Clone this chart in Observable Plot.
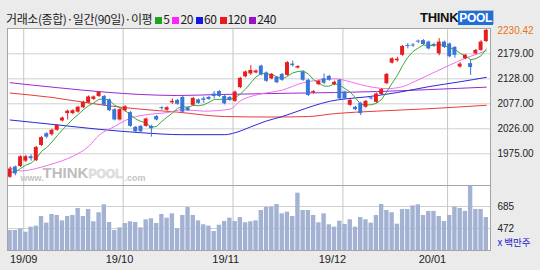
<!DOCTYPE html>
<html><head><meta charset="utf-8">
<script src="https://cdn.jsdelivr.net/npm/d3@7"></script>
<script src="https://cdn.jsdelivr.net/npm/@observablehq/plot@0.6"></script>
<style>
body{margin:0;}
#wrap{position:relative;width:540px;height:270px;background:#ebebeb;overflow:hidden;font-family:"Noto Sans CJK KR",sans-serif;}
#hdr{position:absolute;left:6px;top:12px;font-size:12px;line-height:14px;color:#222;white-space:nowrap;letter-spacing:-0.4px;}
.sq{display:inline-block;width:7px;height:7px;margin:0 1px 0 3px;}
#logo{position:absolute;left:420px;top:11px;font-family:"Liberation Sans",Arial,sans-serif;font-weight:bold;font-size:13px;line-height:13px;white-space:nowrap;}
#logo .t{color:#111;letter-spacing:-0.3px;}
#logo .p{color:#fff;background:#1e6fdc;padding:0 1px;font-size:12px;letter-spacing:-0.3px;box-shadow:1px -1px 0 #bbb;}
.pl{position:absolute;left:0;}
</style></head>
<body>
<div id="wrap">
  <div id="hdr">거래소(종합)·일간(90일)·이평<span class="sq" style="background:#1fa31f"></span>5<span class="sq" style="background:#ff22ff"></span>20<span class="sq" style="background:#1515e8"></span>60<span class="sq" style="background:#e81a1a"></span>120<span class="sq" style="background:#9a10cc"></span>240</div>
  <div id="logo"><span class="t">THINK</span><span class="p">POOL</span></div>
  <div id="price" class="pl" style="top:0"></div>
  <div id="vol" class="pl" style="top:185px"></div>
</div>
<script>
// ---- data ----
const open = [1927,1948,1949,1960,1969,1961,1992,2016,2014,2023,
 2042,2057,2057,2060,2069,2079,2086,2092,2092,2085,
 2065,2044,2063,2059,2029,2031,2031,2031,2051,2069,
 2064,2079,2084,2090,2069,2074,2085,2087,2090,2097,
 2102,2092,2090,2082,2110,2132,2138,2140,2154,2140,
 2128,2131,2137,2135,2158,2150,2142,2125,2099,2116,
 2128,2133,2116,2125,2101,2074,2070,2078,2070,2089,
 2080,2096,2118,2160,2165,2176,2196,2197,2205,2206,
 2203,2198,2179,2203,2199,2192,2152,2169,2159,2179,
 2186,2204];
const close = [1944,1934,1969,1969,1965,1988,2008,2009,2023,2033,
 2048,2062,2063,2070,2080,2091,2091,2100,2074,2063,
 2044,2065,2071,2031,2020,2020,2046,2026,2044,2067,
 2069,2082,2076,2060,2063,2088,2078,2084,2086,2092,
 2092,2077,2084,2101,2129,2142,2145,2144,2136,2123,
 2137,2120,2125,2161,2155,2153,2125,2094,2102,2123,
 2119,2125,2121,2087,2087,2084,2065,2057,2082,2087,
 2097,2106,2137,2169,2168,2194,2194,2195,2203,2198,
 2189,2196,2203,2192,2173,2176,2158,2176,2151,2186,
 2203,2227];
const high = [1948,1950,1971,1972,1973,1990,2010,2018,2025,2035,
 2050,2064,2065,2072,2082,2093,2093,2102,2094,2087,
 2067,2067,2073,2061,2031,2033,2048,2033,2053,2071,
 2071,2087,2086,2092,2071,2090,2087,2091,2092,2102,
 2104,2094,2092,2103,2131,2144,2155,2146,2156,2142,
 2139,2133,2139,2163,2164,2155,2144,2127,2104,2125,
 2138,2135,2123,2127,2103,2086,2072,2080,2084,2092,
 2099,2108,2139,2171,2172,2196,2200,2200,2207,2208,
 2205,2201,2210,2205,2201,2194,2161,2178,2166,2188,
 2206,2230];
const low = [1925,1930,1947,1957,1960,1959,1990,2006,2011,2021,
 2040,2044,2055,2058,2067,2077,2084,2090,2072,2061,
 2042,2042,2060,2029,2018,2018,2029,2009,2042,2064,
 2062,2076,2074,2058,2061,2072,2076,2078,2084,2087,
 2090,2075,2082,2080,2108,2130,2135,2138,2134,2121,
 2126,2118,2123,2133,2152,2148,2123,2092,2097,2114,
 2116,2123,2114,2085,2085,2072,2063,2053,2068,2085,
 2078,2094,2116,2158,2162,2174,2189,2192,2200,2196,
 2187,2192,2175,2190,2171,2170,2150,2167,2135,2177,
 2184,2202];
const vol = [453,453,469,436,485,495,588,524,608,598,
 546,588,598,666,588,656,537,624,701,530,
 453,478,520,537,530,478,556,566,520,608,
 572,614,469,598,675,598,546,508,495,443,
 504,540,572,540,578,527,537,546,646,675,
 679,704,614,630,588,814,646,646,598,527,
 614,508,485,543,511,556,485,578,556,524,
 598,704,646,624,514,656,656,691,701,598,
 637,637,588,540,598,679,666,637,879,656,
 656,578];
const ma5 = [1937,1938,1945,1952,1956,1965,1980,1988,1999,2012,
 2024,2035,2046,2055,2065,2073,2079,2086,2087,2084,
 2074,2069,2063,2055,2046,2041,2038,2029,2031,2041,
 2050,2058,2068,2071,2070,2074,2073,2075,2080,2086,
 2086,2086,2086,2089,2097,2107,2120,2132,2139,2138,
 2137,2132,2128,2133,2140,2143,2144,2138,2126,2119,
 2113,2113,2118,2115,2108,2101,2089,2076,2075,2075,
 2078,2086,2102,2119,2135,2155,2172,2184,2191,2197,
 2196,2196,2198,2196,2191,2188,2180,2175,2167,2169,
 2175,2189];
const ma20Idx = [0,2,5,7,10,12,15,17,20,22,25,28,30,33,37,42,44,47,52,56,58,62,65,67,72,75,77,80,84,87,91];
const ma20Val = [1947,1940,1945,1951,1961,1970,1990,2013,2031,2043,2053,2057,2059,2065,2062,2066,2083,2095,2105,2120,2124,2128,2122,2116,2108,2112,2121,2136,2156,2170,2185];
const ma60Idx = [0,9,17,25,33,41,43,46,49,52,55,58,61,64,68,74,80,86,91];
const ma60Val = [2044,2034,2025,2018,2014,2014,2018,2030,2042,2051,2062,2073,2082,2087,2091,2100,2112,2122,2131];
const ma120Idx = [0,8,18,25,32,41,50,57,62,70,80,91];
const ma120Val = [2099,2090,2074,2066,2060,2051,2050,2051,2057,2062,2067,2074];
const ma240Idx = [0,9,18,25,32,40,50,62,70,80,91];
const ma240Val = [2120,2110,2101,2096,2094,2096,2098,2100,2102,2106,2111];
const monthStart = [3,22,43,64,84];
const monthLabels = ["19/09","19/10","19/11","19/12","20/01"];
const labelPos = [2.6,20.9,41.2,61.6,80.7];
const priceTicks = [1975,2026,2077,2128,2179];
const lastPrice = 2230.42;
const volTicks = [472,685];

// ---- build ----
const bars = open.map((o,i)=>({i, o, c: close[i], h: high[i], l: low[i], v: vol[i], up: close[i] >= o}));
const upBars = bars.filter(d=>d.up), dnBars = bars.filter(d=>!d.up);
const pts = (idx, val) => idx.map((x,k)=>({x, y: val[k]}));
const RED = "#e61e1e", BLUE = "#3a76d8";
const xDom = [-0.5, 91.8];
const numFont = "'Liberation Sans', Arial, sans-serif";

const price = Plot.plot({
  width: 540, height: 186, marginTop: 28, marginBottom: 1, marginLeft: 7, marginRight: 50,
  x: {domain: xDom, axis: null},
  y: {domain: [1910.3, 2230.7], label: null},
  style: {background: "transparent", fontFamily: numFont, fontSize: "10px", color: "#222"},
  marks: [
    Plot.frame({fill: "white", stroke: "none"}),
    Plot.gridY(priceTicks, {stroke: "#cfcfcf", strokeOpacity: 1}),
    Plot.ruleX(monthStart, {x: d => d - 0.4, stroke: "#c6c6c6"}),
    Plot.text(["www."], {frameAnchor: "bottom-left", dx: 13, dy: -5, textAnchor: "start", fill: "#c4c4c4", fontSize: 9, fontWeight: "bold"}),
    Plot.text(["THINK"], {frameAnchor: "bottom-left", dx: 35, dy: -8, textAnchor: "start", fill: "#bdbdbd", fontSize: 15, fontWeight: "bold"}),
    Plot.text(["POOL"], {frameAnchor: "bottom-left", dx: 81, dy: -8, textAnchor: "start", fill: "#dedede", stroke: "#c8c8c8", strokeWidth: 0.5, fontSize: 12, fontWeight: "bold"}),
    Plot.text([".com"], {frameAnchor: "bottom-left", dx: 117, dy: -5, textAnchor: "start", fill: "#c4c4c4", fontSize: 9, fontWeight: "bold"}),
    Plot.line(pts(ma240Idx, ma240Val), {x: "x", y: "y", stroke: "#9b27d4", strokeWidth: 1, curve: "monotone-x"}),
    Plot.line(pts(ma120Idx, ma120Val), {x: "x", y: "y", stroke: "#ea3a3a", strokeWidth: 1, curve: "monotone-x"}),
    Plot.line(pts(ma60Idx, ma60Val), {x: "x", y: "y", stroke: "#2828dc", strokeWidth: 1, curve: "monotone-x"}),
    Plot.line(pts(ma20Idx, ma20Val), {x: "x", y: "y", stroke: "#f06ef0", strokeWidth: 1, curve: "monotone-x"}),
    Plot.line(bars.map((d,i)=>({x: i, y: ma5[i]})), {x: "x", y: "y", stroke: "#3aaa3a", strokeWidth: 1}),
    Plot.ruleX(upBars, {x: "i", y1: "l", y2: "h", stroke: RED}),
    Plot.ruleX(dnBars, {x: "i", y1: "l", y2: "h", stroke: BLUE}),
    Plot.rect(upBars, {x1: d => d.i - 0.38, x2: d => d.i + 0.38, y1: "o", y2: "c", fill: RED}),
    Plot.rect(dnBars, {x1: d => d.i - 0.38, x2: d => d.i + 0.38, y1: "o", y2: "c", fill: BLUE}),
    Plot.axisY(priceTicks, {anchor: "right", label: null, tickSize: 0, tickPadding: 7, tickFormat: d => d.toFixed(2), fill: "#222"}),
    Plot.text([lastPrice], {y: d => d, frameAnchor: "right", dx: 7, dy: 2, textAnchor: "start", text: d => d.toFixed(2), fill: "#e8720c"}),
    Plot.frame({stroke: "#a4a4a4"})
  ]
});
document.getElementById("price").append(price);

const volume = Plot.plot({
  width: 540, height: 85, marginTop: 0, marginBottom: 20, marginLeft: 7, marginRight: 50,
  x: {domain: xDom, axis: null},
  y: {domain: [259, 888], label: null},
  style: {background: "transparent", fontFamily: numFont, fontSize: "10px", color: "#222"},
  marks: [
    Plot.frame({fill: "white", stroke: "none"}),
    Plot.gridY(volTicks, {stroke: "#cfcfcf", strokeOpacity: 1}),
    Plot.ruleX(monthStart, {x: d => d - 0.4, stroke: "#c6c6c6"}),
    Plot.rectY(bars, {x1: d => d.i - 0.42, x2: d => d.i + 0.42, y: "v", fill: "#a3b2d3", clip: true}),
    Plot.axisY(volTicks, {anchor: "right", label: null, tickSize: 0, tickPadding: 7, fill: "#222"}),
    Plot.text(["x 백만주"], {frameAnchor: "bottom-right", dx: 7, dy: -5, textAnchor: "start", fill: "#2020cc", fontFamily: "'Noto Sans CJK KR', sans-serif", fontSize: 9.5}),
    Plot.text(monthLabels, {x: (d,i) => labelPos[i], frameAnchor: "bottom", dy: 12, text: d => d, fontSize: 11, fill: "#222"}),
    Plot.frame({stroke: "#a4a4a4"})
  ]
});
document.getElementById("vol").append(volume);
</script>
</body></html>
